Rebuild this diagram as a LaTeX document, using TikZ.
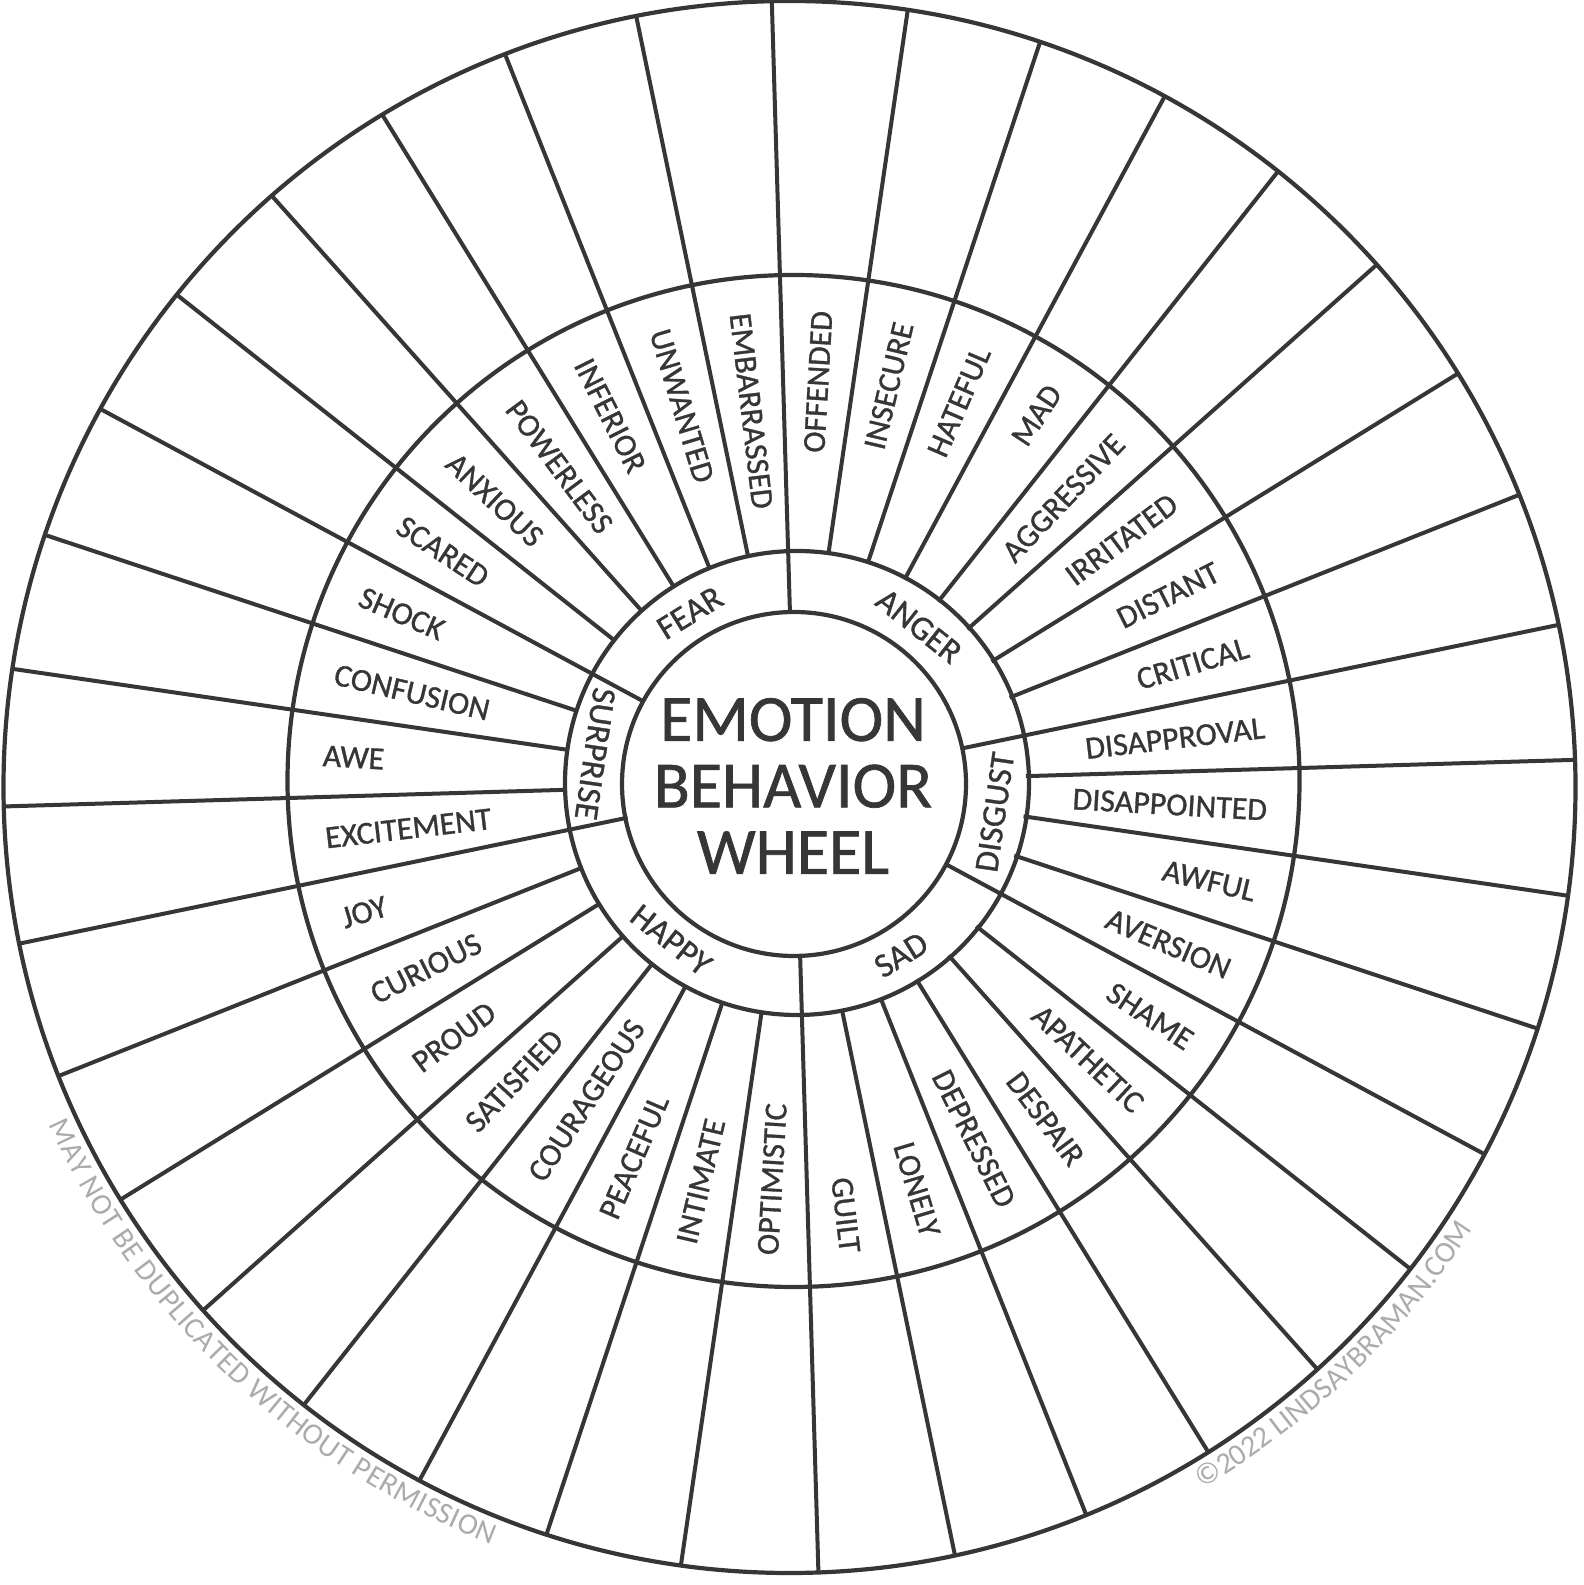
\documentclass[tikz,border=0pt]{standalone}
\usepackage{fontspec}
\setmainfont{Carlito}
\newfontfamily\inkfont{Carlito}[FakeBold=1]
\usetikzlibrary{decorations.text}
\definecolor{ink}{HTML}{363636}
\definecolor{wmgray}{HTML}{ABABAB}
\newcommand{\wmfont}{\fontsize{30}{30}\selectfont}

\begin{document}
\begin{tikzpicture}[
    x=1pt, y=1pt,
    ring/.style={draw=ink, line width=4.2pt},
    spoke/.style={draw=ink, line width=4pt},
    word/.style={font=\inkfont\fontsize{32}{32}\selectfont, text=ink, inner sep=0pt},
    core/.style={font=\inkfont\fontsize{34}{34}\selectfont, text=ink, inner sep=0pt},
    title/.style={font=\inkfont\fontsize{66}{66.5}\selectfont, text=ink, align=center, inner sep=0pt},
    wmtext/.style={decorate, decoration={text along path, text color=wmgray, text={#1}}}
]
\useasboundingbox (0,0) rectangle (1583,1585);
\begin{scope}[shift={(795,802)}]

% Spokes
\begin{scope}
\clip (-5.5,-4) circle (786pt);
\foreach \a in {0,...,35}
  \draw[spoke] (1.7+10*\a:231pt) -- (1.7+10*\a:830pt);
\end{scope}
\foreach \a in {11.7,91.7,151.7,191.7,271.7,331.7}
  \draw[spoke] (\a:171pt) -- (\a:232pt);

% Rings
\draw[ring] (-1,-1) circle (172pt);
\draw[ring] (2,0) circle (232pt);
\draw[ring] (-1.5,2) circle (506pt);
\draw[ring] (-5.5,-4) circle (786pt);

% Center
\node[title] (title) at (-2,-3) {EMOTION\\BEHAVIOR\\WHEEL};

% Core emotions
\node[core, rotate=31.7] (fear) at (121.7:200pt) {FEAR};
\node[core, rotate=-38.3] (anger) at (51.7:200pt) {ANGER};
\node[core, rotate=81.7] (disgust) at (-8.3:202pt) {DISGUST};
\node[core, rotate=31.7] (sad) at (301.7:202pt) {SAD};
\node[core, rotate=-38.3] (happy) at (231.7:200pt) {HAPPY};
\node[core, rotate=261.7] (surprise) at (171.7:202pt) {SURPRISE};

% Anger
\node[word, anchor=east, rotate=16.7] (critical) at (16.7:473pt) {CRITICAL};
\node[word, anchor=east, rotate=26.7] (distant) at (26.7:473pt) {DISTANT};
\node[word, anchor=east, rotate=36.7] (irritated) at (36.7:473pt) {IRRITATED};
\node[word, anchor=east, rotate=46.7] (aggressive) at (46.7:473pt) {AGGRESSIVE};
\node[word, anchor=east, rotate=56.7] (mad) at (56.7:473pt) {MAD};
\node[word, anchor=east, rotate=66.7] (hateful) at (66.7:473pt) {HATEFUL};
\node[word, anchor=east, rotate=76.7] (insecure) at (76.7:473pt) {INSECURE};
\node[word, anchor=east, rotate=86.7] (offended) at (86.7:473pt) {OFFENDED};

% Fear
\node[word, anchor=west, rotate=-83.3] (embarrassed) at (96.7:473pt) {EMBARRASSED};
\node[word, anchor=west, rotate=-73.3] (unwanted) at (106.7:473pt) {UNWANTED};
\node[word, anchor=west, rotate=-63.3] (inferior) at (116.7:473pt) {INFERIOR};
\node[word, anchor=west, rotate=-53.3] (powerless) at (126.7:473pt) {POWERLESS};
\node[word, anchor=west, rotate=-43.3] (anxious) at (136.7:473pt) {ANXIOUS};
\node[word, anchor=west, rotate=-33.3] (scared) at (146.7:473pt) {SCARED};

% Surprise
\node[word, anchor=west, rotate=-23.3] (shock) at (156.7:473pt) {SHOCK};
\node[word, anchor=west, rotate=-13.3] (confusion) at (166.7:473pt) {CONFUSION};
\node[word, anchor=west, rotate=-3.3] (awe) at (176.7:473pt) {AWE};
\node[word, anchor=west, rotate=6.7] (excitement) at (186.7:473pt) {EXCITEMENT};

% Happy
\node[word, anchor=west, rotate=16.7] (joy) at (196.7:473pt) {JOY};
\node[word, anchor=west, rotate=26.7] (curious) at (206.7:473pt) {CURIOUS};
\node[word, anchor=west, rotate=36.7] (proud) at (216.7:473pt) {PROUD};
\node[word, anchor=west, rotate=46.7] (satisfied) at (226.7:473pt) {SATISFIED};
\node[word, anchor=west, rotate=56.7] (courageous) at (236.7:473pt) {COURAGEOUS};
\node[word, anchor=west, rotate=66.7] (peaceful) at (246.7:473pt) {PEACEFUL};
\node[word, anchor=west, rotate=76.7] (intimate) at (256.7:473pt) {INTIMATE};
\node[word, anchor=west, rotate=86.7] (optimistic) at (266.7:473pt) {OPTIMISTIC};

% Sad
\node[word, anchor=east, rotate=-83.3] (guilt) at (276.7:473pt) {GUILT};
\node[word, anchor=east, rotate=-73.3] (lonely) at (286.7:473pt) {LONELY};
\node[word, anchor=east, rotate=-63.3] (depressed) at (296.7:473pt) {DEPRESSED};
\node[word, anchor=east, rotate=-53.3] (despair) at (306.7:473pt) {DESPAIR};
\node[word, anchor=east, rotate=-43.3] (apathetic) at (316.7:473pt) {APATHETIC};
\node[word, anchor=east, rotate=-33.3] (shame) at (326.7:473pt) {SHAME};

% Disgust
\node[word, anchor=east, rotate=-23.3] (aversion) at (336.7:473pt) {AVERSION};
\node[word, anchor=east, rotate=-13.3] (awful) at (346.7:473pt) {AWFUL};
\node[word, anchor=east, rotate=-3.3] (disappointed) at (356.7:473pt) {DISAPPOINTED};
\node[word, anchor=east, rotate=6.7] (disapproval) at (6.7:473pt) {DISAPPROVAL};

% Watermarks
\path[wmtext={|\wmfont|MAY NOT BE DUPLICATED WITHOUT PERMISSION}, decoration={text align=fit to path}]
  ([shift={(-5.5,-4)}]204.5:814pt) arc[start angle=204.5, end angle=248.5, radius=814pt];
\path[wmtext={|\wmfont|©2022 LINDSAYBRAMAN.COM}]
  ([shift={(-5.5,-4)}]300.5:814pt) arc[start angle=300.5, end angle=340, radius=814pt];

\end{scope}
\end{tikzpicture}
\end{document}
